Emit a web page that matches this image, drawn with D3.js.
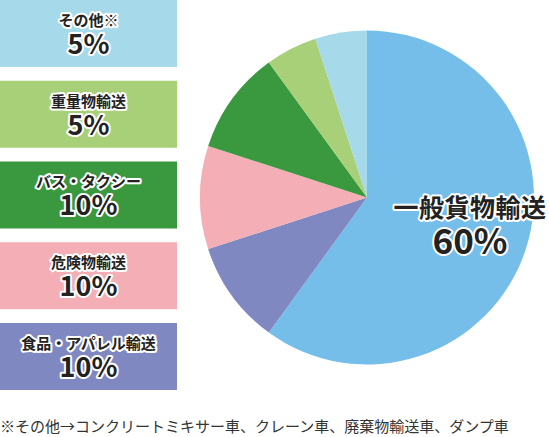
<!DOCTYPE html>
<html><head><meta charset="utf-8">
<script src="https://cdn.jsdelivr.net/npm/d3@7"></script>
<style>
html,body{margin:0;padding:0;background:#fff;}
text{font-family:"Noto Sans CJK JP","Noto Sans",sans-serif;}
</style></head>
<body>
<svg id="c" width="549" height="437"></svg>
<script>
const categories = ["一般貨物輸送","食品・アパレル輸送","危険物輸送","バス・タクシー","重量物輸送","その他※"];
const values = [60,10,10,10,5,5];
const colors = ["#75bee9","#8088c1","#f4aeb5","#3a983f","#a8d079","#a6d9ea"];
const legendOrder = ["その他※","重量物輸送","バス・タクシー","危険物輸送","食品・アパレル輸送"];
const footnote = "※その他→コンクリートミキサー車、クレーン車、廃棄物輸送車、ダンプ車";

const svg = d3.select("#c");
const data = categories.map((c,i)=>({name:c,value:values[i],color:colors[i]}));
const cx = 367, cy = 197.5, r = 167;
const pie = d3.pie().value(d=>d.value).sort(null);
const arc = d3.arc().innerRadius(0).outerRadius(r);
const g = svg.append("g").attr("transform",`translate(${cx},${cy})`);
g.selectAll("path").data(pie(data)).join("path")
  .attr("d",arc).attr("fill",d=>d.data.color);

function outlined(sel){
  return sel.attr("stroke","#fff").attr("stroke-width",4).attr("stroke-linejoin","round")
    .attr("paint-order","stroke").attr("fill","#222").attr("font-weight","bold");
}

// main label
outlined(svg.append("text").attr("x",470).attr("y",217).attr("text-anchor","middle")
  .attr("font-size",25).attr("letter-spacing",0.5).text(categories[0]));
outlined(svg.append("text").attr("x",470).attr("y",254).attr("text-anchor","middle")
  .attr("font-size",35).text(values[0]+"%"));

// legend boxes
const ly = d3.scaleBand().domain(legendOrder).range([0,390]).paddingInner(0.17).paddingOuter(0);
const lg = svg.selectAll("g.leg").data(legendOrder).join("g").attr("class","leg")
  .attr("transform",d=>`translate(0,${ly(d)})`);
lg.append("rect").attr("x",0).attr("y",0).attr("width",177).attr("height",ly.bandwidth())
  .attr("fill",d=>data.find(e=>e.name===d).color);
lg.each(function(d){
  const s = d3.select(this);
  outlined(s.append("text").attr("x",88.5).attr("y",26).attr("text-anchor","middle")
    .attr("font-size",15).text(d));
  outlined(s.append("text").attr("x",88.5).attr("y",54).attr("text-anchor","middle")
    .attr("font-size",27).text(data.find(e=>e.name===d).value+"%"));
});

svg.append("text").attr("x",0).attr("y",432).attr("font-size",15).attr("fill","#333")
  .text(footnote);
</script>
</body></html>
